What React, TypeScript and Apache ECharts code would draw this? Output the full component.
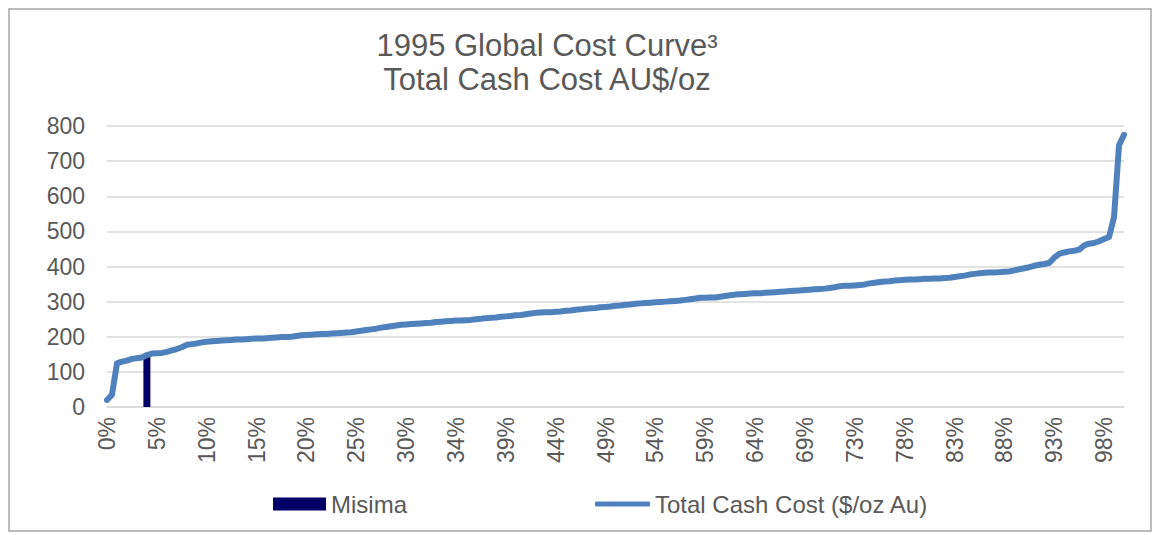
import React, { useEffect, useRef } from "react";
import * as echarts from "echarts";

const tickLabels: string[] = [
  "0%", "5%", "10%", "15%", "20%", "25%", "30%", "34%", "39%", "44%", "49%",
  "54%", "59%", "64%", "69%", "73%", "78%", "83%", "88%", "93%", "98%",
];

const totalCashCost: number[] = [
  20, 35, 124, 129, 132, 137, 139, 141, 148, 152,
  153, 154, 157, 161, 165, 170, 177, 179, 181, 184,
  186, 187, 188, 189, 190, 191, 192, 192, 193, 194,
  195, 195, 196, 197, 198, 199, 199, 200, 202, 204,
  205, 206, 207, 208, 208, 209, 210, 211, 212, 213,
  215, 217, 219, 221, 223, 226, 228, 230, 232, 234,
  235, 236, 237, 238, 239, 240, 242, 243, 244, 245,
  246, 246, 247, 248, 250, 251, 253, 254, 255, 257,
  258, 259, 261, 262, 264, 266, 268, 269, 270, 270,
  271, 272, 274, 275, 277, 278, 280, 281, 282, 284,
  285, 286, 288, 289, 291, 292, 294, 295, 296, 297,
  298, 299, 300, 301, 302, 303, 305, 307, 309, 311,
  311, 312, 312, 314, 316, 318, 320, 321, 322, 323,
  324, 324, 325, 326, 327, 328, 329, 330, 331, 332,
  333, 334, 335, 336, 337, 339, 341, 344, 345, 345,
  346, 347, 349, 352, 354, 356, 357, 358, 360, 361,
  362, 363, 363, 364, 365, 365, 366, 366, 367, 368,
  370, 372, 374, 377, 379, 381, 382, 383, 383, 384,
  385, 386, 389, 392, 395, 398, 402, 405, 407, 410,
  425, 436, 440, 443, 445, 448, 460, 465, 467, 472,
  478, 484, 540, 745, 775,
];

const misimaIndex = 8;
const misimaValue = 150;

const yTicks = { min: 0, max: 800, interval: 100 };

const FONT = "'Liberation Sans', Arial, sans-serif";
const TEXT = "#595959";
const LINE_COLOR = "#4f81bd";

export default function App() {
  const ref = useRef<HTMLDivElement>(null);

  useEffect(() => {
    if (!ref.current) return;
    const chart = echarts.init(ref.current, null, { renderer: "svg" });

    const categories = totalCashCost.map((_, i) =>
      i % 10 === 0 && tickLabels[i / 10] !== undefined ? tickLabels[i / 10] : ""
    );
    const misimaData = totalCashCost.map((_, i) => (i === misimaIndex ? misimaValue : null));

    chart.setOption({
      animation: false,
      textStyle: { fontFamily: FONT },
      title: {
        text: "1995 Global Cost Curve³\nTotal Cash Cost AU$/oz",
        left: 542,
        top: 23,
        textAlign: "center",
        textStyle: {
          fontFamily: FONT,
          fontSize: 31,
          fontWeight: "normal",
          color: TEXT,
          lineHeight: 34,
        },
      },
      graphic: [
        {
          type: "rect",
          shape: { x: 9, y: 9, width: 1142, height: 522 },
          style: { fill: "none", stroke: "#a6a6a6", lineWidth: 1.5 },
          silent: true,
        },
      ],
      legend: [
        {
          data: ["Misima"],
          left: 273,
          top: 492,
          padding: 0,
          itemWidth: 53,
          itemHeight: 13,
          icon: "rect",
          textStyle: { fontFamily: FONT, fontSize: 24, color: TEXT },
        },
        {
          data: [{ name: "Total Cash Cost ($/oz Au)", icon: "roundRect" }],
          left: 595,
          top: 492,
          padding: 0,
          itemWidth: 55,
          itemHeight: 5,
          itemStyle: { color: LINE_COLOR },
          textStyle: { fontFamily: FONT, fontSize: 24, color: TEXT },
        },
      ],
      grid: { left: 107, right: 29, top: 126, bottom: 128, containLabel: false },
      xAxis: {
        type: "category",
        data: categories,
        boundaryGap: false,
        axisTick: { show: false },
        axisLine: { lineStyle: { color: "#d9d9d9", width: 1.5 } },
        axisLabel: {
          interval: 9,
          rotate: 90,
          margin: 10,
          fontFamily: FONT,
          fontSize: 23,
          color: TEXT,
        },
        splitLine: { show: false },
      },
      yAxis: {
        type: "value",
        min: yTicks.min,
        max: yTicks.max,
        interval: yTicks.interval,
        axisLine: { show: false },
        axisTick: { show: false },
        axisLabel: { margin: 22, fontFamily: FONT, fontSize: 23, color: TEXT },
        splitLine: { lineStyle: { color: "#d9d9d9", width: 1.5 } },
      },
      series: [
        {
          name: "Misima",
          type: "bar",
          data: misimaData,
          barWidth: 7,
          itemStyle: { color: "#000066" },
        },
        {
          name: "Total Cash Cost ($/oz Au)",
          type: "line",
          data: totalCashCost,
          symbol: "none",
          showSymbol: false,
          lineStyle: { color: LINE_COLOR, width: 6, cap: "round", join: "round" },
          itemStyle: { color: LINE_COLOR },
        },
      ],
    });

    return () => chart.dispose();
  }, []);

  return (
    <div
      ref={ref}
      style={{ position: "absolute", left: 0, top: 0, width: 1153, height: 535, background: "#fff" }}
    />
  );
}
